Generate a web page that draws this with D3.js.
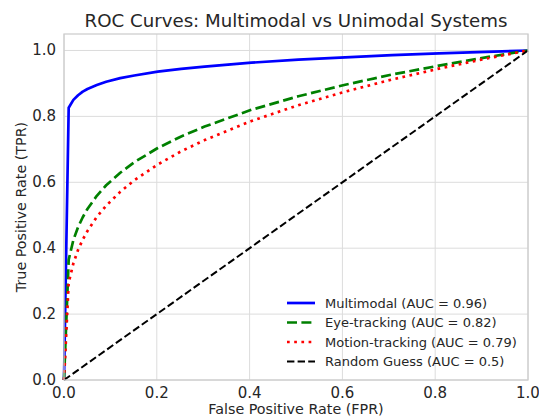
<!DOCTYPE html>
<html>
<head>
<meta charset="utf-8">
<script src="https://cdn.jsdelivr.net/npm/d3@7"></script>
<style>
  html, body { margin: 0; padding: 0; background: #fff; }
  svg { display: block; font-family: "DejaVu Sans", sans-serif; }
  .tick-label { fill: #262626; font-size: 15px; }
  .axis-title { fill: #262626; font-size: 14.3px; }
  .chart-title { fill: #262626; font-size: 18.2px; }
  .legend-label { fill: #262626; font-size: 13px; }
</style>
</head>
<body>
<div id="chart"></div>
<script>
  // ROC points
  const fpr = [0, 0.0101, 0.0202, 0.0303, 0.0404, 0.0505, 0.0707, 0.0909, 0.1212, 0.1515,
    0.2020, 0.2525, 0.3030, 0.4040, 0.5051, 0.6061, 0.7071, 0.8081, 0.9091, 1.0];
  const tprMultimodal = [0, 0.826, 0.850, 0.864, 0.875, 0.883, 0.895, 0.905, 0.916, 0.924,
    0.936, 0.944, 0.951, 0.963, 0.972, 0.979, 0.986, 0.991, 0.996, 1.0];
  const tprEye = [0, 0.365, 0.425, 0.464, 0.494, 0.519, 0.559, 0.591, 0.629, 0.661,
    0.704, 0.739, 0.769, 0.820, 0.861, 0.896, 0.927, 0.954, 0.979, 1.0];
  const tprMotion = [0, 0.295, 0.354, 0.395, 0.426, 0.452, 0.495, 0.529, 0.571, 0.606,
    0.654, 0.694, 0.728, 0.786, 0.834, 0.875, 0.912, 0.945, 0.975, 1.0];
  const randomFpr = [0, 1];
  const randomTpr = [0, 1];

  const seriesNames = [
    'Multimodal (AUC = 0.96)',
    'Eye-tracking (AUC = 0.82)',
    'Motion-tracking (AUC = 0.79)',
    'Random Guess (AUC = 0.5)',
  ];
  const ticks = [0, 0.2, 0.4, 0.6, 0.8, 1.0];

  const W = 539, H = 418;
  const margin = { top: 34, right: 11, bottom: 38, left: 64 };

  const series = [
    { name: seriesNames[0], xs: fpr, ys: tprMultimodal, color: '#0000ff', width: 2.7, dash: null },
    { name: seriesNames[1], xs: fpr, ys: tprEye, color: '#008000', width: 2.7, dash: '10,4.4' },
    { name: seriesNames[2], xs: fpr, ys: tprMotion, color: '#ff0000', width: 2.7, dash: '2.7,4.5' },
    { name: seriesNames[3], xs: randomFpr, ys: randomTpr, color: '#000000', width: 2, dash: '7.4,3.2' },
  ];

  const svg = d3.select('#chart').append('svg')
    .attr('width', W)
    .attr('height', H);

  const x = d3.scaleLinear().domain([0, 1]).range([margin.left, W - margin.right]);
  const y = d3.scaleLinear().domain([0, 1.05]).range([H - margin.bottom, margin.top]);

  // grid
  const grid = svg.append('g');
  grid.selectAll('.gx').data(ticks).join('line')
    .attr('x1', d => x(d)).attr('x2', d => x(d))
    .attr('y1', y.range()[0]).attr('y2', y.range()[1])
    .attr('stroke', '#dcdcdc').attr('stroke-width', 1);
  grid.selectAll('.gy').data(ticks).join('line')
    .attr('y1', d => y(d)).attr('y2', d => y(d))
    .attr('x1', x.range()[0]).attr('x2', x.range()[1])
    .attr('stroke', '#dcdcdc').attr('stroke-width', 1);

  // curves
  const line = d3.line().x(d => x(d[0])).y(d => y(d[1]));
  svg.append('g').selectAll('path')
    .data(series)
    .join('path')
    .attr('d', s => line(s.xs.map((v, i) => [v, s.ys[i]])))
    .attr('fill', 'none')
    .attr('stroke', s => s.color)
    .attr('stroke-width', s => s.width)
    .attr('stroke-dasharray', s => s.dash)
    .attr('stroke-linejoin', 'round');

  // frame
  svg.append('rect')
    .attr('x', x.range()[0]).attr('y', y.range()[1])
    .attr('width', x.range()[1] - x.range()[0])
    .attr('height', y.range()[0] - y.range()[1])
    .attr('fill', 'none')
    .attr('stroke', '#cccccc')
    .attr('stroke-width', 1.25);

  // tick labels
  svg.append('g').selectAll('text').data(ticks).join('text')
    .attr('class', 'tick-label')
    .attr('x', d => x(d))
    .attr('y', H - margin.bottom + 17.5)
    .attr('text-anchor', 'middle')
    .text(d => d.toFixed(1));
  svg.append('g').selectAll('text').data(ticks).join('text')
    .attr('class', 'tick-label')
    .attr('x', margin.left - 8)
    .attr('y', d => y(d))
    .attr('text-anchor', 'end')
    .attr('dy', '0.3em')
    .text(d => d.toFixed(1));

  // titles
  svg.append('text')
    .attr('class', 'chart-title')
    .attr('x', (x.range()[0] + x.range()[1]) / 2)
    .attr('y', 27)
    .attr('text-anchor', 'middle')
    .text('ROC Curves: Multimodal vs Unimodal Systems');
  svg.append('text')
    .attr('class', 'axis-title')
    .attr('x', (x.range()[0] + x.range()[1]) / 2)
    .attr('y', 414)
    .attr('text-anchor', 'middle')
    .text('False Positive Rate (FPR)');
  svg.append('text')
    .attr('class', 'axis-title')
    .attr('transform', `translate(26,${(y.range()[0] + y.range()[1]) / 2}) rotate(-90)`)
    .attr('text-anchor', 'middle')
    .text('True Positive Rate (TPR)');

  // legend (no frame)
  const legend = svg.append('g').attr('transform', 'translate(287,303)');
  const rows = legend.selectAll('g').data(series).join('g')
    .attr('transform', (d, i) => `translate(0,${i * 19.5})`);
  rows.append('line')
    .attr('x1', 0).attr('x2', 28)
    .attr('stroke', d => d.color)
    .attr('stroke-width', d => d.width)
    .attr('stroke-dasharray', d => d.dash);
  rows.append('text')
    .attr('class', 'legend-label')
    .attr('x', 38)
    .attr('dy', '0.35em')
    .text(d => d.name);
</script>
</body>
</html>
